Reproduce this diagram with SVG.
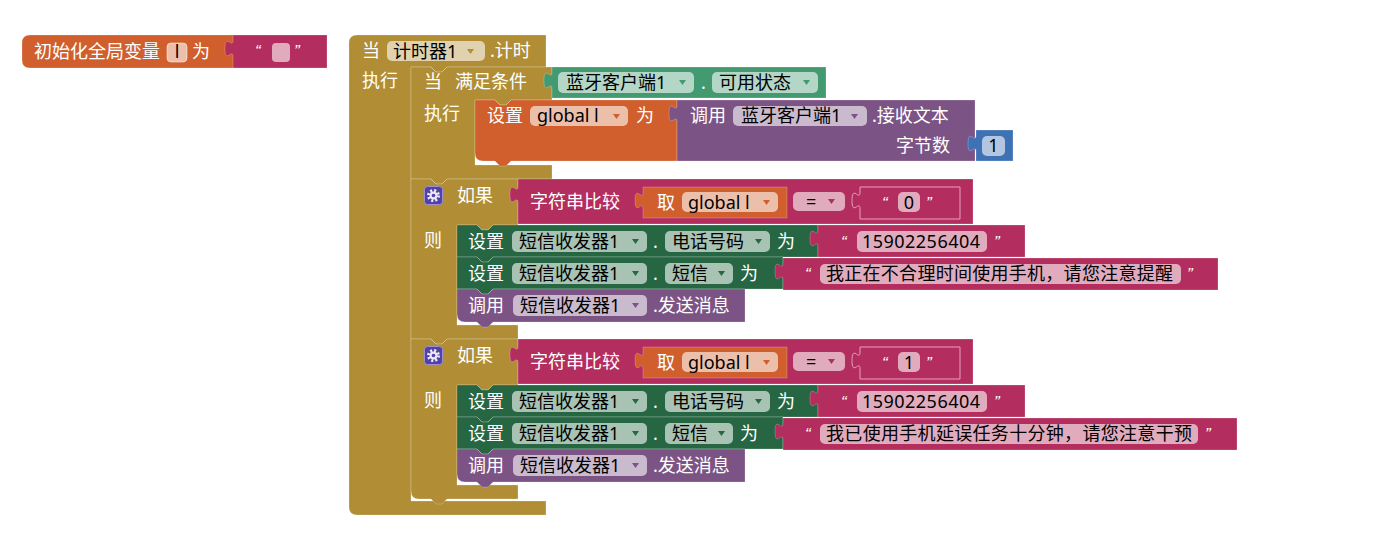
<svg xmlns="http://www.w3.org/2000/svg" width="1375" height="543" viewBox="0 0 1375 543">
<defs>
<style>
text{font-family:"Noto Sans","Noto Sans CJK SC",sans-serif;font-size:18px}
.w{fill:#fff}
.k{fill:#000}
.fl{fill:#fff;fill-opacity:.6}
path{stroke:#fff;stroke-opacity:.22;stroke-width:1}
.ctl{fill:#B18E35}
.var{fill:#D05F2D}
.str{fill:#B32D5E}
.get{fill:#439970}
.set{fill:#266643}
.call{fill:#7C5385}
.num{fill:#3F71B5}
.q{font-family:"Liberation Sans",sans-serif;font-size:17px;font-style:italic;fill:#fff}
.inner{stroke:#E6A3BC;stroke-opacity:1}
#arr{stroke:none}
</style>
<path id="arr" d="M0,0h7l-3.5,5z"/>
<g id="gear">
<rect x="0.5" y="0.5" width="18" height="18" rx="3" fill="#5242A3" stroke="#9A8FD0"/>
<circle cx="9.5" cy="9.5" r="5" fill="none" stroke="#EDE8F5" stroke-width="3" stroke-dasharray="2 1.93"/>
<circle cx="9.5" cy="9.5" r="4" fill="#EDE8F5"/>
<circle cx="9.5" cy="9.5" r="1.8" fill="#5242A3"/>
</g>
</defs>

<g id="global-init">
<path class="var" d="M30,35H235V68H30Q22,68 22,60V43Q22,35 30,35Z"/>
<text class="w" x="34" y="58">初始化全局变量</text>
<rect x="167" y="43" width="20" height="19" rx="4" class="fl" stroke="#fff" stroke-opacity=".5"/>
<text class="k" x="177" y="58" text-anchor="middle">l</text>
<text class="w" x="192" y="58">为</text>
<path class="str" d="M233,35H327V68H233V57c0,-10 -8,8 -8,-8.5s8,1.5 8,-8.5Z"/>
<text class="q" x="255" y="57">“</text>
<rect x="272" y="43" width="18" height="19" rx="4" class="fl"/>
<text class="q" x="294" y="57">”</text>
</g>

<g id="timer">
<path class="ctl" d="M357,35H546V67H447l-5,5h-6l-5,-5H411V501H546V515H357Q349,515 349,507V43Q349,35 357,35Z"/>
<text class="w" x="362" y="57">当</text>
<rect class="fl" x="387" y="41" width="98" height="20" rx="5"/>
<text class="k" x="393" y="57.5">计时器1</text>
<use href="#arr" x="467" y="49" fill="#B18E35"/>
<text class="w" x="490" y="57">.计时</text>
<text class="w" x="362" y="87">执行</text>
</g>

<g id="while">
<path class="ctl" d="M411,67H431l5,5h6l5,-5H552V100H511l-5,5h-6l-5,-5H475V165H552V179H447l-5,5h-6l-5,-5H411Z"/>
<text class="w" x="424" y="88">当</text>
<text class="w" x="455" y="88">满足条件</text>
<text class="w" x="424" y="120">执行</text>
</g>

<g id="bt-available">
<path class="get" d="M552,67H826V98H552V89c0,-10 -8,8 -8,-8.5s8,1.5 8,-8.5Z"/>
<rect class="fl" x="558" y="72" width="136" height="21" rx="5"/>
<text class="k" x="566" y="89">蓝牙客户端1</text>
<use href="#arr" x="679" y="80" fill="#439970"/>
<text class="w" x="701" y="89">.</text>
<rect class="fl" x="712" y="72" width="106" height="21" rx="5"/>
<text class="k" x="719" y="89">可用状态</text>
<use href="#arr" x="803" y="80" fill="#439970"/>
</g>

<g id="set-global">
<path class="var" d="M475,100H495l5,5h6l5,-5H677V161H511l-5,5h-6l-5,-5H483Q475,161 475,153Z"/>
<text class="w" x="487" y="122">设置</text>
<rect class="fl" x="530" y="106" width="98" height="20" rx="5"/>
<text class="k" x="537" y="122">global l</text>
<use href="#arr" x="613" y="114" fill="#D05F2D"/>
<text class="w" x="636" y="122">为</text>
</g>

<g id="bt-receive">
<path class="call" d="M677,100H975V161H677V122c0,-10 -8,8 -8,-8.5s8,1.5 8,-8.5Z"/>
<text class="w" x="690" y="122">调用</text>
<rect class="fl" x="733" y="106" width="134" height="20" rx="5"/>
<text class="k" x="741" y="122">蓝牙客户端1</text>
<use href="#arr" x="851" y="114" fill="#7C5385"/>
<text class="w" x="872" y="122">.接收文本</text>
<text class="w" x="896" y="152">字节数</text>
</g>

<g id="num-1">
<path class="num" d="M976,130H1013V161H976V152c0,-10 -8,8 -8,-8.5s8,1.5 8,-8.5Z"/>
<rect class="fl" x="982" y="136" width="23" height="20" rx="5"/>
<text class="k" x="993.5" y="152" text-anchor="middle">1</text>
</g>

<g id="if-1">
<path class="ctl" d="M411,179H431l5,5h6l5,-5H518V225H493l-5,5h-6l-5,-5H457V325H518V339H447l-5,5h-6l-5,-5H411Z"/>
<use href="#gear" x="424" y="186"/>
<text class="w" x="457" y="202">如果</text>
<text class="w" x="424" y="247">则</text>
</g>

<g id="compare-1">
<path class="str" d="M518,179H973V224H518V203c0,-10 -8,8 -8,-8.5s8,1.5 8,-8.5Z"/>
<text class="w" x="530" y="208">字符串比较</text>
<path class="var" d="M643,187H787V218H643V209c0,-10 -8,8 -8,-8.5s8,1.5 8,-8.5Z"/>
<text class="w" x="657" y="209">取</text>
<rect class="fl" x="682" y="192" width="96" height="20" rx="5"/>
<text class="k" x="688" y="208.5">global l</text>
<use href="#arr" x="763" y="200" fill="#D05F2D"/>
<rect class="fl" x="793" y="192" width="52" height="19" rx="5"/>
<text class="k" x="806" y="208">=</text>
<use href="#arr" x="828" y="199" fill="#B32D5E"/>
<path class="str inner" d="M860,187H960V219H860V209c0,-10 -8,8 -8,-8.5s8,1.5 8,-8.5Z"/>
<text class="q" x="882" y="209">“</text>
<rect class="fl" x="898" y="192" width="22" height="20" rx="5"/>
<text class="k" x="909" y="208.5" text-anchor="middle">0</text>
<text class="q" x="926" y="209">”</text>
</g>

<g id="set-phone-1">
<path class="set" d="M457,225H477l5,5h6l5,-5H818V257H493l-5,5h-6l-5,-5H457Z"/>
<text class="w" x="468" y="248">设置</text>
<rect class="fl" x="512" y="231" width="135" height="21" rx="5"/>
<text class="k" x="519" y="248">短信收发器1</text>
<use href="#arr" x="632" y="239" fill="#266643"/>
<text class="w" x="653" y="248">.</text>
<rect class="fl" x="665" y="231" width="105" height="21" rx="5"/>
<text class="k" x="672" y="248">电话号码</text>
<use href="#arr" x="755" y="239" fill="#266643"/>
<text class="w" x="777" y="248">为</text>
<path class="str" d="M818,225H1025V257H818V247c0,-10 -8,8 -8,-8.5s8,1.5 8,-8.5Z"/>
<text class="q" x="841" y="248">“</text>
<rect class="fl" x="857" y="231" width="130" height="21" rx="5"/>
<text class="k" x="862" y="248" textLength="118">15902256404</text>
<text class="q" x="994" y="248">”</text>
</g>

<g id="set-msg-1">
<path class="set" d="M457,257H477l5,5h6l5,-5H783V289H493l-5,5h-6l-5,-5H457Z"/>
<text class="w" x="468" y="280">设置</text>
<rect class="fl" x="512" y="263" width="135" height="21" rx="5"/>
<text class="k" x="519" y="280">短信收发器1</text>
<use href="#arr" x="632" y="271" fill="#266643"/>
<text class="w" x="653" y="280">.</text>
<rect class="fl" x="665" y="263" width="68" height="21" rx="5"/>
<text class="k" x="672" y="280">短信</text>
<use href="#arr" x="718" y="271" fill="#266643"/>
<text class="w" x="740" y="280">为</text>
<path class="str" d="M783,258H1218V290H783V280c0,-10 -8,8 -8,-8.5s8,1.5 8,-8.5Z"/>
<text class="q" x="805" y="280">“</text>
<rect class="fl" x="820" y="264" width="361" height="20" rx="5"/>
<text class="k" x="826" y="280" textLength="347">我正在不合理时间使用手机，请您注意提醒</text>
<text class="q" x="1187" y="280">”</text>
</g>

<g id="send-1">
<path class="call" d="M457,289H477l5,5h6l5,-5H745V322H493l-5,5h-6l-5,-5H465Q457,322 457,314Z"/>
<text class="w" x="468" y="312">调用</text>
<rect class="fl" x="513" y="295" width="134" height="21" rx="5"/>
<text class="k" x="520" y="312">短信收发器1</text>
<use href="#arr" x="632" y="303" fill="#7C5385"/>
<text class="w" x="653" y="312">.发送消息</text>
</g>

<g id="if-2">
<path class="ctl" d="M411,339H431l5,5h6l5,-5H518V385H493l-5,5h-6l-5,-5H457V485H518V499H447l-5,5h-6l-5,-5H419Q411,499 411,491Z"/>
<use href="#gear" x="424" y="346"/>
<text class="w" x="457" y="362">如果</text>
<text class="w" x="424" y="407">则</text>
</g>

<g id="compare-2">
<path class="str" d="M518,339H973V384H518V363c0,-10 -8,8 -8,-8.5s8,1.5 8,-8.5Z"/>
<text class="w" x="530" y="368">字符串比较</text>
<path class="var" d="M643,347H787V378H643V369c0,-10 -8,8 -8,-8.5s8,1.5 8,-8.5Z"/>
<text class="w" x="657" y="369">取</text>
<rect class="fl" x="682" y="352" width="96" height="20" rx="5"/>
<text class="k" x="688" y="368.5">global l</text>
<use href="#arr" x="763" y="360" fill="#D05F2D"/>
<rect class="fl" x="793" y="352" width="52" height="19" rx="5"/>
<text class="k" x="806" y="368">=</text>
<use href="#arr" x="828" y="359" fill="#B32D5E"/>
<path class="str inner" d="M860,347H960V379H860V369c0,-10 -8,8 -8,-8.5s8,1.5 8,-8.5Z"/>
<text class="q" x="882" y="369">“</text>
<rect class="fl" x="898" y="352" width="22" height="20" rx="5"/>
<text class="k" x="909" y="368.5" text-anchor="middle">1</text>
<text class="q" x="926" y="369">”</text>
</g>

<g id="set-phone-2">
<path class="set" d="M457,385H477l5,5h6l5,-5H818V417H493l-5,5h-6l-5,-5H457Z"/>
<text class="w" x="468" y="408">设置</text>
<rect class="fl" x="512" y="391" width="135" height="21" rx="5"/>
<text class="k" x="519" y="408">短信收发器1</text>
<use href="#arr" x="632" y="399" fill="#266643"/>
<text class="w" x="653" y="408">.</text>
<rect class="fl" x="665" y="391" width="105" height="21" rx="5"/>
<text class="k" x="672" y="408">电话号码</text>
<use href="#arr" x="755" y="399" fill="#266643"/>
<text class="w" x="777" y="408">为</text>
<path class="str" d="M818,385H1025V417H818V407c0,-10 -8,8 -8,-8.5s8,1.5 8,-8.5Z"/>
<text class="q" x="841" y="408">“</text>
<rect class="fl" x="857" y="391" width="130" height="21" rx="5"/>
<text class="k" x="862" y="408" textLength="118">15902256404</text>
<text class="q" x="994" y="408">”</text>
</g>

<g id="set-msg-2">
<path class="set" d="M457,417H477l5,5h6l5,-5H783V449H493l-5,5h-6l-5,-5H457Z"/>
<text class="w" x="468" y="440">设置</text>
<rect class="fl" x="512" y="423" width="135" height="21" rx="5"/>
<text class="k" x="519" y="440">短信收发器1</text>
<use href="#arr" x="632" y="431" fill="#266643"/>
<text class="w" x="653" y="440">.</text>
<rect class="fl" x="665" y="423" width="68" height="21" rx="5"/>
<text class="k" x="672" y="440">短信</text>
<use href="#arr" x="718" y="431" fill="#266643"/>
<text class="w" x="740" y="440">为</text>
<path class="str" d="M783,418H1237V450H783V440c0,-10 -8,8 -8,-8.5s8,1.5 8,-8.5Z"/>
<text class="q" x="805" y="440">“</text>
<rect class="fl" x="820" y="424" width="378" height="20" rx="5"/>
<text class="k" x="826" y="440" textLength="366">我已使用手机延误任务十分钟，请您注意干预</text>
<text class="q" x="1205" y="440">”</text>
</g>

<g id="send-2">
<path class="call" d="M457,449H477l5,5h6l5,-5H745V482H493l-5,5h-6l-5,-5H465Q457,482 457,474Z"/>
<text class="w" x="468" y="472">调用</text>
<rect class="fl" x="513" y="455" width="134" height="21" rx="5"/>
<text class="k" x="520" y="472">短信收发器1</text>
<use href="#arr" x="632" y="463" fill="#7C5385"/>
<text class="w" x="653" y="472">.发送消息</text>
</g>

<g id="connectors"></g>
</svg>
